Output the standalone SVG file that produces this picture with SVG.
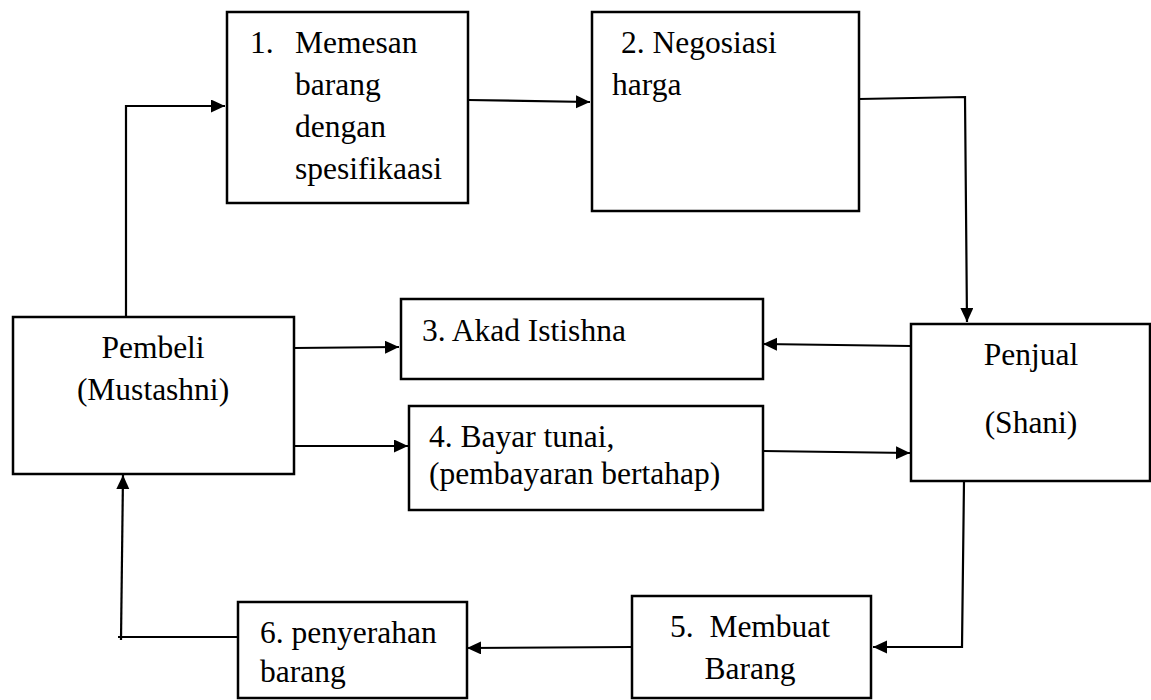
<svg xmlns="http://www.w3.org/2000/svg" width="1151" height="700" viewBox="0 0 1151 700">
<defs>
<marker id="arr" markerUnits="userSpaceOnUse" markerWidth="16" markerHeight="14" refX="14" refY="6.5" orient="auto">
<path d="M0,0 L14,6.5 L0,13 z" fill="#000"/>
</marker>
<style>
.box{fill:#fff;stroke:#000;stroke-width:2.5}
.t{font-family:'Liberation Serif','Tinos','Times New Roman','DejaVu Serif Condensed','DejaVu Serif',serif;font-size:31.5px;fill:#000}
.c{text-anchor:middle}
.ln{fill:none;stroke:#000;stroke-width:2.2}
.ar{marker-end:url(#arr)}
</style>
</defs>
<rect width="1151" height="700" fill="#fff"/>
<g id="connectors">
<polyline class="ln ar" points="126,317 126,106 225,106"/>
<line class="ln ar" x1="468" y1="100" x2="590" y2="102"/>
<polyline class="ln ar" points="859,99 965,97 967,322"/>
<line class="ln ar" x1="911" y1="346" x2="763" y2="344"/>
<line class="ln ar" x1="294" y1="348" x2="399" y2="347"/>
<line class="ln ar" x1="294" y1="446" x2="408" y2="446"/>
<line class="ln ar" x1="763" y1="451" x2="910" y2="453"/>
<polyline class="ln ar" points="964,481 962,647 873,647"/>
<line class="ln ar" x1="632" y1="647" x2="467" y2="648"/>
<line class="ln" x1="238" y1="637" x2="118" y2="637"/>
<line class="ln ar" x1="121" y1="640" x2="123" y2="475"/>
</g>
<g id="node1">
<rect class="box" x="227" y="12" width="241" height="191"/>
<text class="t" x="250" y="53">1.</text>
<text class="t" x="295" y="53">Memesan</text>
<text class="t" x="295" y="95">barang</text>
<text class="t" x="295" y="137">dengan</text>
<text class="t" x="295" y="179">spesifikaasi</text>
</g>
<g id="node2">
<rect class="box" x="592" y="12" width="267" height="199"/>
<text class="t" x="621" y="53">2. Negosiasi</text>
<text class="t" x="612" y="95">harga</text>
</g>
<g id="pembeli">
<rect class="box" x="13" y="317" width="281" height="157"/>
<text class="t c" x="153" y="358">Pembeli</text>
<text class="t c" x="153" y="400">(Mustashni)</text>
</g>
<g id="node3">
<rect class="box" x="401" y="299" width="362" height="80"/>
<text class="t" x="422" y="341">3. Akad Istishna</text>
</g>
<g id="node4">
<rect class="box" x="409" y="406" width="354" height="104"/>
<text class="t" x="429" y="447">4. Bayar tunai,</text>
<text class="t" x="429" y="484">(pembayaran bertahap)</text>
</g>
<g id="penjual">
<rect class="box" x="911" y="324" width="239" height="157"/>
<text class="t c" x="1031" y="365">Penjual</text>
<text class="t c" x="1031" y="433">(Shani)</text>
</g>
<g id="node5">
<rect class="box" x="632" y="596" width="239" height="102"/>
<text class="t" x="670" y="637" style="white-space:pre">5.  Membuat</text>
<text class="t c" x="750" y="679">Barang</text>
</g>
<g id="node6">
<rect class="box" x="238" y="602" width="229" height="96"/>
<text class="t" x="260" y="643">6. penyerahan</text>
<text class="t" x="260" y="682">barang</text>
</g>
</svg>
